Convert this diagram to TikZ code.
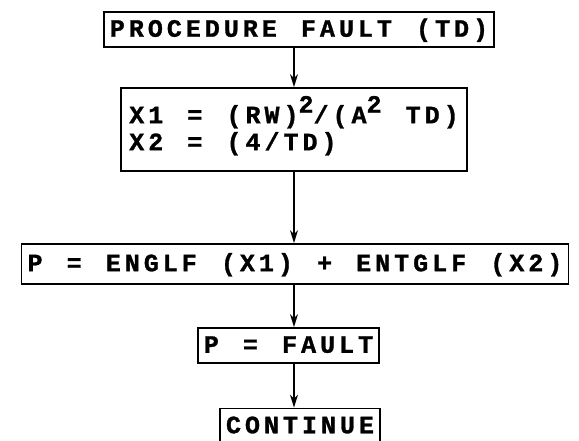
\documentclass[tikz,border=0pt]{standalone}
\usepackage{fontspec}
\usetikzlibrary{arrows.meta}
% spaced-out, heavy typewriter lettering
\newfontfamily\typewriter[LetterSpace=16,WordSpace=1.27,
    BoldFeatures={FakeBold=1.2}]{Liberation Mono}
\newcommand*\typesize{\fontsize{25pt}{27pt}\selectfont}
\newcommand*\hiup[1]{\raisebox{0.42em}{#1}}
\tikzset{
    box/.style    = {draw, line width=1.8pt, inner xsep=6pt, inner ysep=0pt,
                    minimum height=35pt, text height=14.5pt, text depth=0pt,
                    font=\typewriter\bfseries\typesize},
    % aligned text sits on its last line, so the height covers both lines
    twoline/.style = {box, align=left, minimum height=83pt, inner xsep=8pt,
                    text height=41.5pt},
    flow/.style   = {line width=1.4pt, -{Stealth[length=13pt,width=8pt]}},
  }
\begin{document}
\begin{tikzpicture}[x=1pt,y=-1pt]
        % page frame
        \useasboundingbox (0,0) rectangle (579,441);
        \coordinate (spine) at (294,0);

        % boxes, top to bottom
        \node[box] (proc) at (299,29.5) {PROCEDURE FAULT (TD)};
        \node[twoline] (calc) at (294,129.5)
            {X1 = (RW)\hiup{2}/(A\hiup{2} TD)\\X2 = (4/TD)};
        \node[box, minimum height=40pt] (prob) at (295,264)
            {P = ENGLF (X1) + ENTGLF (X2)};
        \node[box] (assign) at (288.5,345.5) {P = FAULT};
        \node[box] (cont) at (300,426) {CONTINUE};

        % connectors down the middle
        \foreach \a/\b in {proc/calc, calc/prob, prob/assign, assign/cont} {
            \draw[flow] (\a.south -| spine) -- (\b.north -| spine);
        }
    \end{tikzpicture}
\end{document}
